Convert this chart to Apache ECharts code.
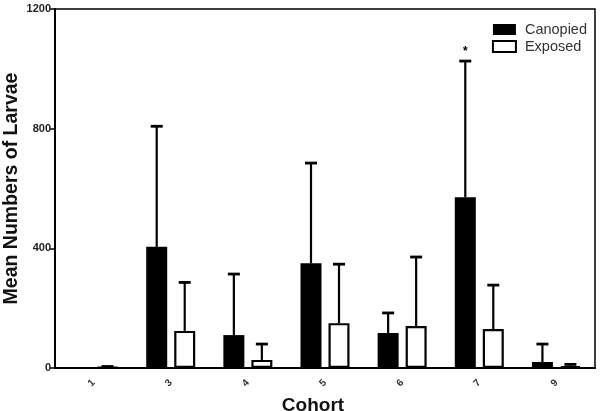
<!DOCTYPE html>
<html><head><meta charset="utf-8">
<script src="https://cdn.jsdelivr.net/npm/echarts@6/dist/echarts.min.js"></script>
<style>html,body{margin:0;padding:0;background:#fff}#c{width:600px;height:411px}</style>
</head><body><div id="c"></div>
<script>
const categories = ['1','3','4','5','6','7','9'];
const canopied = [0, 405, 110, 350, 117, 571, 20];
const canopiedErr = [0, 808, 314, 685, 184, 1026, 80];
const exposed = [3, 124, 27, 150, 140, 130, 6];
const exposedErr = [5, 286, 80, 347, 371, 277, 12];
const annotations = ['', '', '', '', '', '*', ''];
const yTicks = [0, 400, 800, 1200];

const BAR_W = 21, GAP = 7;
const chart = echarts.init(document.getElementById('c'));

function errRender(vals, sign, ann) {
  return function (params, api) {
    const i = params.dataIndex;
    const top = api.coord([i, api.value(1)]);
    const base = api.coord([i, api.value(2)]);
    const x = top[0] + sign * (BAR_W + GAP) / 2;
    const children = [];
    if (api.value(1) > api.value(2)) {
      children.push({type: 'line', shape: {x1: x, y1: base[1], x2: x, y2: top[1]}, style: {stroke: '#000', lineWidth: 2.2}});
      children.push({type: 'line', shape: {x1: x - 6, y1: top[1], x2: x + 6, y2: top[1]}, style: {stroke: '#000', lineWidth: 2.8}});
    }
    if (ann && ann[i]) {
      children.push({type: 'text', style: {text: ann[i], x: x, y: top[1] - 3, align: 'center', verticalAlign: 'bottom', font: 'bold 12px Arial', fill: '#000'}});
    }
    return {type: 'group', children: children};
  };
}

chart.setOption({
  animation: false,
  grid: {left: 55, right: 5, top: 9, bottom: 43, outerBoundsMode: 'none', containLabel: false,
    show: true, borderColor: '#000', borderWidth: 1.5, backgroundColor: 'transparent'},
  legend: {
    right: 8, top: 17, orient: 'vertical', itemWidth: 23, itemHeight: 11, itemGap: 2,
    textStyle: {fontFamily: 'Arial', fontSize: 14.5, color: '#333', padding: [0, 0, 0, 4]},
    data: [{name: 'Canopied', icon: 'rect'}, {name: 'Exposed', icon: 'rect'}]
  },
  xAxis: {
    type: 'category', data: categories,
    name: 'Cohort', nameLocation: 'middle', nameGap: 28, nameMoveOverlap: false,
    nameTextStyle: {fontFamily: 'Arial', fontSize: 19, fontWeight: 'bold', color: '#111', padding: [0, 24, 0, 0]},
    axisLine: {lineStyle: {color: '#000', width: 2}},
    axisTick: {alignWithLabel: true, length: 5, lineStyle: {color: '#000', width: 1.5}},
    axisLabel: {rotate: 45, fontFamily: 'Arial', fontSize: 10, fontWeight: 'bold', color: '#333', margin: 13}
  },
  yAxis: {
    type: 'value', min: 0, max: 1200, interval: 400,
    name: 'Mean Numbers of Larvae', nameLocation: 'middle', nameGap: 33, nameMoveOverlap: false,
    nameTextStyle: {fontFamily: 'Arial', fontSize: 19.5, fontWeight: 'bold', color: '#111'},
    axisLine: {show: true, lineStyle: {color: '#000', width: 2}},
    axisTick: {show: true, length: 5, lineStyle: {color: '#000', width: 1.5}},
    axisLabel: {fontFamily: 'Arial', fontSize: 11, fontWeight: 'bold', color: '#222', margin: 4,
      formatter: v => yTicks.indexOf(v) >= 0 ? String(v) : ''},
    splitLine: {show: false}
  },
  series: [
    {name: 'Canopied', type: 'bar', data: canopied, barWidth: BAR_W, barGap: (GAP / BAR_W * 100) + '%',
     itemStyle: {color: '#000', borderColor: '#000', borderWidth: 0}, z: 2},
    {name: 'Exposed', type: 'bar', data: exposed, barWidth: BAR_W,
     itemStyle: {color: '#fff', borderColor: '#000', borderWidth: 2.2}, z: 2},
    {name: 'errC', type: 'custom', data: categories.map((c, i) => [i, canopiedErr[i], canopied[i]]),
     renderItem: errRender(canopiedErr, -1, annotations), z: 3, silent: true},
    {name: 'errE', type: 'custom', data: categories.map((c, i) => [i, exposedErr[i], exposed[i]]),
     renderItem: errRender(exposedErr, 1, null), z: 3, silent: true}
  ]
});
</script></body></html>
